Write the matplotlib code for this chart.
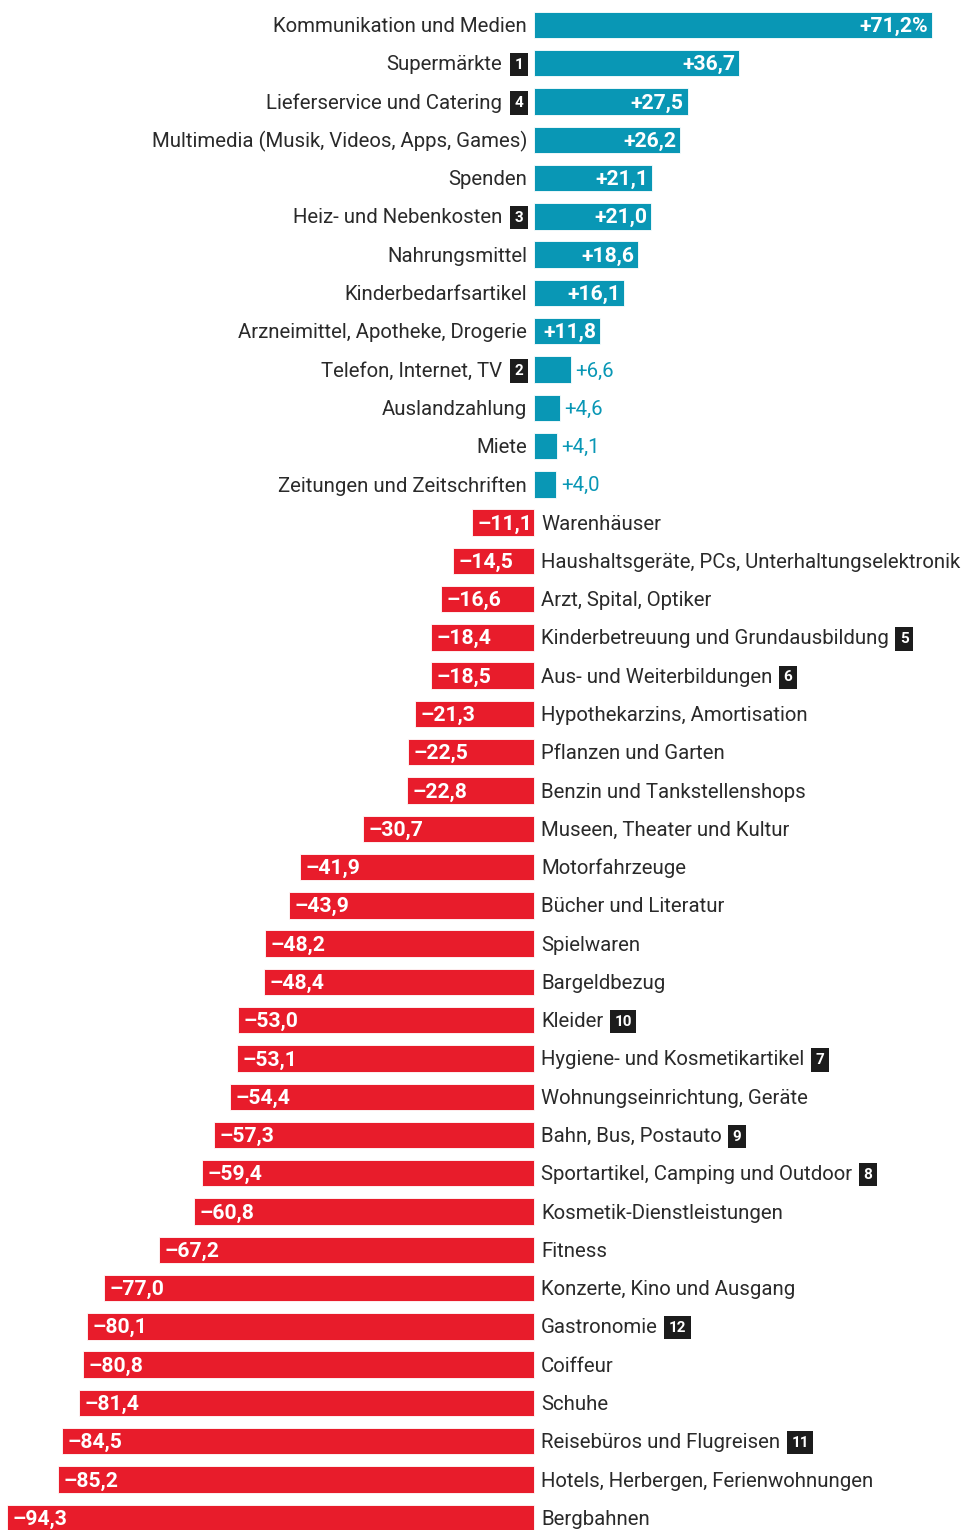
import matplotlib
matplotlib.use("Agg")
import matplotlib.pyplot as plt

plt.rcParams['font.family'] = ['Roboto', 'DejaVu Sans']

# categories, change in percent, footnote badge (0 = none)
labels = [
    "Kommunikation und Medien", "Supermärkte", "Lieferservice und Catering",
    "Multimedia (Musik, Videos, Apps, Games)", "Spenden", "Heiz- und Nebenkosten",
    "Nahrungsmittel", "Kinderbedarfsartikel", "Arzneimittel, Apotheke, Drogerie",
    "Telefon, Internet, TV", "Auslandzahlung", "Miete", "Zeitungen und Zeitschriften",
    "Warenhäuser", "Haushaltsgeräte, PCs, Unterhaltungselektronik", "Arzt, Spital, Optiker",
    "Kinderbetreuung und Grundausbildung", "Aus- und Weiterbildungen",
    "Hypothekarzins, Amortisation", "Pflanzen und Garten", "Benzin und Tankstellenshops",
    "Museen, Theater und Kultur", "Motorfahrzeuge", "Bücher und Literatur", "Spielwaren",
    "Bargeldbezug", "Kleider", "Hygiene- und Kosmetikartikel", "Wohnungseinrichtung, Geräte",
    "Bahn, Bus, Postauto", "Sportartikel, Camping und Outdoor", "Kosmetik-Dienstleistungen",
    "Fitness", "Konzerte, Kino und Ausgang", "Gastronomie", "Coiffeur", "Schuhe",
    "Reisebüros und Flugreisen", "Hotels, Herbergen, Ferienwohnungen", "Bergbahnen",
]
values = [
    71.2, 36.7, 27.5, 26.2, 21.1, 21.0, 18.6, 16.1, 11.8, 6.6, 4.6, 4.1, 4.0,
    -11.1, -14.5, -16.6, -18.4, -18.5, -21.3, -22.5, -22.8, -30.7, -41.9, -43.9, -48.2,
    -48.4, -53.0, -53.1, -54.4, -57.3, -59.4, -60.8, -67.2, -77.0, -80.1, -80.8, -81.4,
    -84.5, -85.2, -94.3,
]
badges = [
    0, 1, 4, 0, 0, 3, 0, 0, 0, 2, 0, 0, 0,
    0, 0, 0, 5, 6, 0, 0, 0, 0, 0, 0, 0,
    0, 10, 7, 0, 9, 8, 0, 0, 0, 12, 0, 0,
    11, 0, 0,
]

TEAL = "#0997b5"
RED = "#e81c2b"
TXT = "#2a2a2a"
BADGE = "#1c1c1c"

fig = plt.figure(figsize=(9.63, 15.3), dpi=100)
ax = fig.add_axes([0, 0, 1, 1])
ax.axis("off")

ypos = list(range(len(values)))
colors = [TEAL if v > 0 else RED for v in values]
ax.barh(ypos, values, height=0.69, color=colors, edgecolor="white", linewidth=0.6)
ax.set_xlim(-95.6, 76.8)
ax.set_ylim(39.32, -0.653)


def fmt(v, first=False):
    s = f"{abs(v):.1f}".replace(".", ",")
    s = ("+" if v > 0 else "–") + s
    if first:
        s += "%"
    return s


gap = 1.25
fs = 14.7
vfs = 15.2
bfs = 11
dy = 0.04  # nudge text down a touch
badge_box = dict(boxstyle="square,pad=0.3", fc=BADGE, ec="none")
for i, (lab, v, b) in enumerate(zip(labels, values, badges)):
    # category label and optional footnote badge
    if v > 0:
        if b:
            bt = ax.text(-gap - 0.6, i + dy, str(b), ha="right", va="center", fontsize=bfs,
                         fontweight="bold", color="white", bbox=badge_box)
            ax.annotate(lab, xy=(0, 0.5), xycoords=bt, xytext=(-9, 0),
                        textcoords="offset points", ha="right", va="center",
                        fontsize=fs, color=TXT)
        else:
            ax.text(-gap, i + dy, lab, ha="right", va="center", fontsize=fs, color=TXT)
    else:
        t = ax.text(gap, i + dy, lab, ha="left", va="center", fontsize=fs, color=TXT)
        if b:
            ax.annotate(str(b), xy=(1, 0.5), xycoords=t, xytext=(8, 0),
                        textcoords="offset points", ha="left", va="center",
                        fontsize=bfs, fontweight="bold", color="white", bbox=badge_box)

    # value label
    txt = fmt(v, first=(i == 0))
    if v > 10:
        ax.text(v - 0.7, i + dy, txt, ha="right", va="center", fontsize=vfs,
                fontweight="bold", color="white")
    elif v > 0:
        ax.text(v + 0.8, i + dy, txt, ha="left", va="center", fontsize=fs, color=TEAL)
    else:
        ax.text(v + 1.0, i + dy, txt, ha="left", va="center", fontsize=vfs,
                fontweight="bold", color="white")

fig.savefig("out.png", dpi=100, facecolor="white")
